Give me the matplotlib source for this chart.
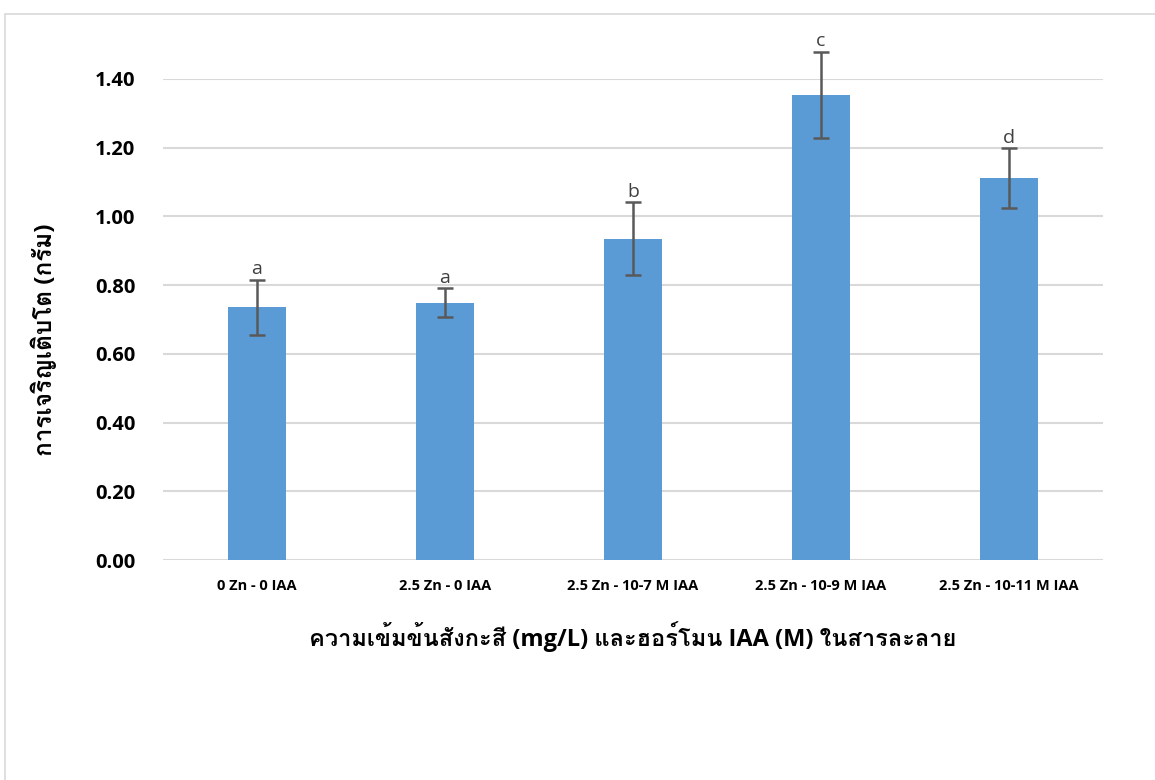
import matplotlib
matplotlib.use("Agg")
import matplotlib.pyplot as plt
from matplotlib import font_manager as fm
from matplotlib.ft2font import FT2Font
from matplotlib.patches import Rectangle

# data
groups = ['0 Zn - 0 IAA', '2.5 Zn - 0 IAA', '2.5 Zn - 10-7 M IAA',
          '2.5 Zn - 10-9 M IAA', '2.5 Zn - 10-11 M IAA']
growth = [0.736, 0.749, 0.935, 1.354, 1.112]
err = [0.080, 0.043, 0.106, 0.125, 0.087]
letters = ['a', 'a', 'b', 'c', 'd']
yticks = [0.0, 0.2, 0.4, 0.6, 0.8, 1.0, 1.2, 1.4]

# look for any installed font with Thai glyphs
thai = []
for f in fm.fontManager.ttflist:
    try:
        if 0x0E01 in FT2Font(f.fname).get_charmap() and f.name not in thai:
            thai.append(f.name)
    except Exception:
        pass
plt.rcParams['font.family'] = ['Open Sans', 'DejaVu Sans'] + thai

fig = plt.figure(figsize=(11.55, 7.8), dpi=100)
ax = fig.add_axes([163/1155, 1-560/780, 940/1155, 481/780])

x = range(len(groups))
ax.bar(x, growth, width=0.31, color='#5b9bd5', zorder=3)
ax.errorbar(x, growth, yerr=err, fmt='none', ecolor='#595959', elinewidth=1.8,
            capsize=6, capthick=1.8, zorder=4, clip_on=False)
for i in x:
    ax.annotate(letters[i], (i, growth[i] + err[i]), xytext=(0, 1),
                textcoords='offset points', ha='center', va='bottom',
                fontsize=14, color='#404040', annotation_clip=False)

ax.set_xlim(-0.5, 4.5)
ax.set_ylim(0, 1.4)
ax.set_yticks(yticks)
ax.set_yticklabels(['%.2f' % v for v in yticks], fontsize=14.5, fontweight='bold')
ax.set_xticks(list(x))
ax.set_xticklabels(groups, fontsize=10.5, fontweight='bold')
ax.tick_params(length=0, pad=14)
ax.tick_params(axis='y', pad=20)
ax.grid(axis='y', color='#d9d9d9', linewidth=1.5, zorder=0)
for s in ax.spines.values():
    s.set_visible(False)

ax.set_xlabel('ความเข้มข้นสังกะสี (mg/L) และฮอร์โมน IAA (M) ในสารละลาย',
              fontsize=17, fontweight='bold')
ax.xaxis.set_label_coords(0.5, (560 - 637) / 481, transform=ax.transAxes)
ax.xaxis.label.set_va('center')
ax.set_ylabel('การเจริญเติบโต (กรัม)', fontsize=17.5, fontweight='bold')
ax.yaxis.set_label_coords((45 - 163) / 940, (560 - 340) / 481)
ax.yaxis.label.set_va('center')

fig.patches.append(Rectangle((5/1155, -0.1), 2, 1 - 14/780 + 0.1,
                             transform=fig.transFigure, fill=False,
                             edgecolor='#d9d9d9', linewidth=1.2))

fig.savefig('out.png', dpi=100)
